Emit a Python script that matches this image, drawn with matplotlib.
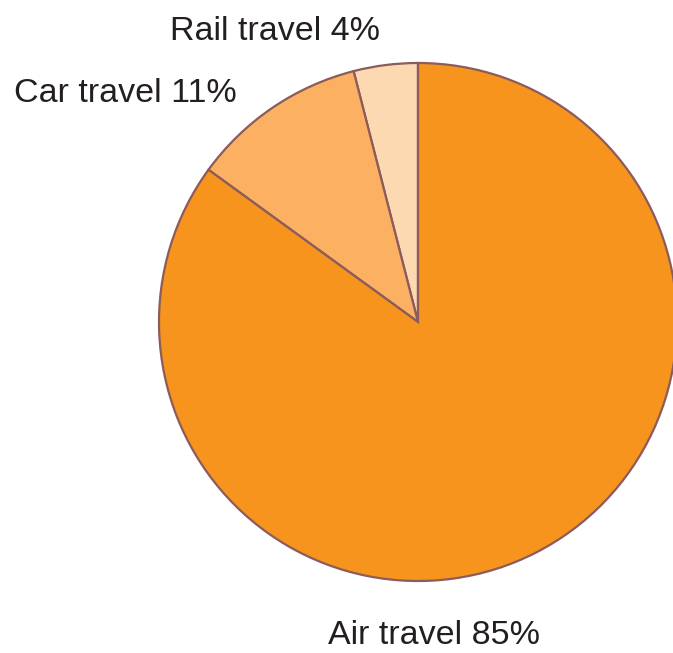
import matplotlib
matplotlib.use("Agg")
import matplotlib.pyplot as plt

labels = ["Rail travel", "Car travel", "Air travel"]
values = [4, 11, 85]
colors = ["#FDD9B1", "#FBB062", "#F7941E"]

W, H = 673, 653
fig = plt.figure(figsize=(W / 100, H / 100), dpi=100)
ax = fig.add_axes([0, 0, 1, 1])
ax.set_xlim(0, W)
ax.set_ylim(0, H)
ax.set_aspect("equal")
ax.axis("off")

ax.pie(values, colors=colors, startangle=90, counterclock=True,
       center=(418, H - 322), radius=259,
       wedgeprops=dict(edgecolor="#8C5B5B", linewidth=1.6))
ax.set_xlim(0, W)
ax.set_ylim(0, H)

label_pos = [(275, 31), (125, 93), (434, 636)]
for lab, v, (x, y) in zip(labels, values, label_pos):
    ax.text(x, H - y, f"{lab} {v}%", ha="center", va="center",
            fontsize=24.5, color="#231F20", family=["Liberation Sans", "DejaVu Sans"])

fig.savefig("out.png", dpi=100)
